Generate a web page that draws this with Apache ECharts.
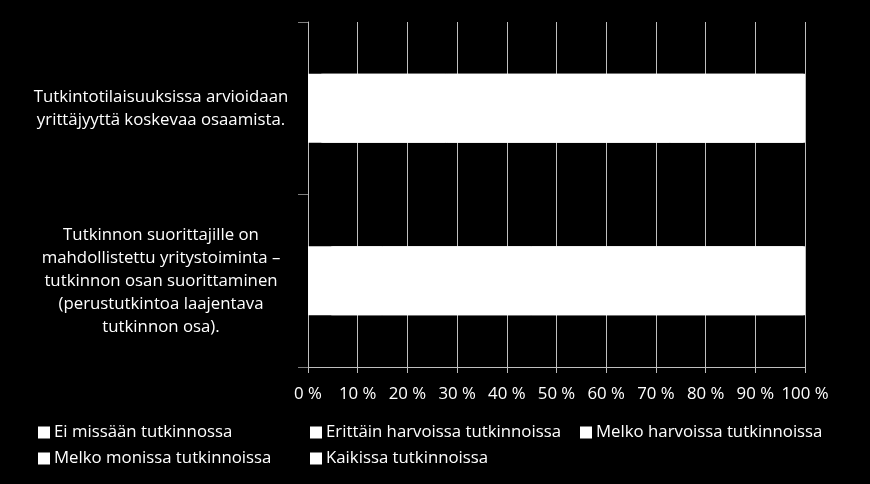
<!DOCTYPE html>
<html>
<head>
<meta charset="utf-8">
<script src="https://cdn.jsdelivr.net/npm/echarts@6/dist/echarts.min.js"></script>
<style>
html,body{margin:0;padding:0;background:#000;}
#c{width:870px;height:484px;}
</style>
</head>
<body>
<div id="c"></div>
<script>
var categories = [
  "Tutkintotilaisuuksissa arvioidaan\nyrittäjyyttä koskevaa osaamista.",
  "Tutkinnon suorittajille on\nmahdollistettu yritystoiminta –\ntutkinnon osan suorittaminen\n(perustutkintoa laajentava\ntutkinnon osa)."
];
var seriesNames = [
  "Ei missään tutkinnossa",
  "Erittäin harvoissa tutkinnoissa",
  "Melko harvoissa tutkinnoissa",
  "Melko monissa tutkinnoissa",
  "Kaikissa tutkinnoissa"
];
var eiMissaan = [3, 5];
var erittainHarvoissa = [0, 10];
var melkoHarvoissa = [25, 30];
var melkoMonissa = [45, 35];
var kaikissa = [27, 20];
var xTicks = [0, 10, 20, 30, 40, 50, 60, 70, 80, 90, 100];

var values = [eiMissaan, erittainHarvoissa, melkoHarvoissa, melkoMonissa, kaikissa];
var FONT = "Open Sans";
var FS = 16.8;
var chart = echarts.init(document.getElementById('c'));

var legendPos = [
  {left: 38, top: 424},
  {left: 310, top: 424},
  {left: 580, top: 424},
  {left: 38, top: 450},
  {left: 310, top: 450}
];
var legends = seriesNames.map(function (n, i) {
  return {
    data: [n],
    left: legendPos[i].left,
    top: legendPos[i].top,
    padding: 0,
    icon: 'rect',
    itemWidth: 12,
    itemHeight: 12,
    itemGap: 0,
    textStyle: {color: '#ffffff', fontSize: FS, fontFamily: FONT, padding: [0, 0, 0, -1]},
    selectedMode: false
  };
});

var series = seriesNames.map(function (n, i) {
  var style = {color: '#ffffff'};
  if (i > 0) {
    style.shadowColor = '#ffffff';
    style.shadowBlur = 0;
    style.shadowOffsetX = -1.5;
  }
  return {
    name: n,
    type: 'bar',
    stack: 'total',
    barWidth: '40%',
    data: values[i],
    itemStyle: style,
    emphasis: {disabled: true}
  };
});

chart.setOption({
  backgroundColor: '#000000',
  animation: false,
  legend: legends,
  grid: {left: 308, right: 65, top: 22, bottom: 117, containLabel: false},
  xAxis: {
    type: 'value',
    min: xTicks[0],
    max: xTicks[xTicks.length - 1],
    interval: 10,
    axisLine: {show: true, lineStyle: {color: '#bfbfbf', width: 1}},
    axisTick: {show: true, length: 6, lineStyle: {color: '#bfbfbf'}},
    splitLine: {show: true, lineStyle: {color: '#bfbfbf', width: 1}},
    axisLabel: {color: '#ffffff', fontSize: FS, fontFamily: FONT, margin: 19, formatter: '{value} %'}
  },
  yAxis: {
    type: 'category',
    inverse: true,
    data: categories,
    axisLine: {show: true, lineStyle: {color: '#bfbfbf', width: 1}},
    axisTick: {show: true, length: 10, lineStyle: {color: '#7f7f7f'}},
    axisLabel: {color: '#ffffff', fontSize: FS, fontFamily: FONT, lineHeight: 23, align: 'center', margin: 147}
  },
  series: series
});
</script>
</body>
</html>
